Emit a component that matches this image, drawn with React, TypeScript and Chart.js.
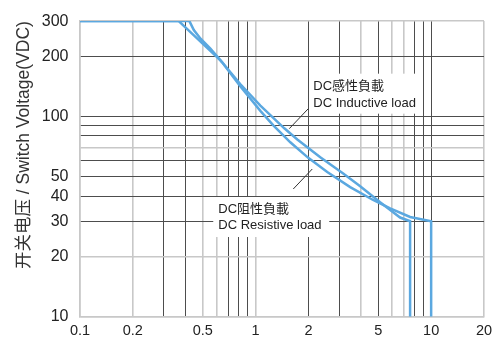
import React, { useEffect, useRef } from 'react';
import { Chart, registerables } from 'chart.js';

Chart.register(...registerables);

// ---- data (current in A, voltage in VDC) ----
const inductiveCurrent = [0.1, 0.365, 0.532, 0.631, 0.82, 1.065, 1.458, 1.729, 2.336, 3.156, 3.943, 5.123, 6.656, 7.588, 7.588];
const inductiveVoltage = [300, 300, 220.0, 191.1, 145.1, 113.5, 87.4, 76.9, 62.6, 51.9, 44.9, 37.3, 31.3, 30, 10];
const resistiveCurrent = [0.1, 0.42, 0.445, 0.486, 0.553, 0.645, 0.82, 1.065, 1.262, 1.577, 1.996, 2.56, 3.458, 4.673, 5.84, 7.588, 10, 10];
const resistiveVoltage = [300, 300, 270.8, 245.0, 218.4, 186.6, 141.2, 106.8, 90.4, 74.4, 62.2, 52.8, 44.4, 38.3, 34.8, 31.5, 30, 10];

// ---- axis ticks ----
const xTickValues = [0.1, 0.2, 0.3, 0.4, 0.5, 0.6, 0.7, 0.8, 0.9, 1, 2, 3, 4, 5, 6, 7, 8, 9, 10, 20];
const xTickLabels = [0.1, 0.2, 0.5, 1, 2, 5, 10, 20];
const xLightGrid = [0.1, 0.2, 0.5, 0.6, 1, 4, 6, 7, 20];
const yTickValues = [10, 20, 30, 40, 50, 60, 70, 80, 90, 100, 200, 300];
const yTickLabels = [10, 20, 30, 40, 50, 100, 200, 300];
const yLightGrid = [10, 20, 70, 300];

const yTitle = '开关电压 / Switch Voltage(VDC)';
const inductiveLabel = ['DC感性負載', 'DC Inductive load'];
const resistiveLabel = ['DC阻性負載', 'DC Resistive load'];
// leader-line tips (data space)
const inductiveTip = { x: 1.556, y: 87 };
const resistiveTip = { x: 2.103, y: 54.7 };

const FONT = "'Liberation Sans', Arial, 'Noto Sans CJK SC', sans-serif";
const LINE_COLOR = '#5ba8e0';
const DARK_GRID = '#4d4d4d';
const LIGHT_GRID = '#c8c8c8';

const toPoints = (xs: number[], ys: number[]) => xs.map((x, i) => ({ x, y: ys[i] }));

const annotationPlugin = {
  id: 'loadLabels',
  afterDatasetsDraw(chart: any) {
    const { ctx } = chart;
    const xs = chart.scales.x;
    const ys = chart.scales.y;
    ctx.save();
    ctx.font = `13px ${FONT}`;
    ctx.textBaseline = 'middle';
    ctx.textAlign = 'left';

    {
      const tx = xs.getPixelForValue(inductiveTip.x);
      const ty = ys.getPixelForValue(inductiveTip.y);
      ctx.fillStyle = '#ffffff';
      ctx.fillRect(tx + 20, ty - 55, 112, 40);
      ctx.strokeStyle = '#333';
      ctx.lineWidth = 1;
      ctx.beginPath();
      ctx.moveTo(tx, ty);
      ctx.lineTo(tx + 19, ty - 20);
      ctx.stroke();
      ctx.fillStyle = '#222';
      ctx.fillText(inductiveLabel[0], tx + 24, ty - 42);
      ctx.fillText(inductiveLabel[1], tx + 24, ty - 25);
    }
    {
      const tx = xs.getPixelForValue(resistiveTip.x);
      const ty = ys.getPixelForValue(resistiveTip.y);
      ctx.fillStyle = '#ffffff';
      ctx.fillRect(tx - 99, ty + 28, 116, 40);
      ctx.strokeStyle = '#333';
      ctx.lineWidth = 1;
      ctx.beginPath();
      ctx.moveTo(tx, ty);
      ctx.lineTo(tx - 19, ty + 20);
      ctx.stroke();
      ctx.fillStyle = '#222';
      ctx.fillText(resistiveLabel[0], tx - 94, ty + 40);
      ctx.fillText(resistiveLabel[1], tx - 94, ty + 56);
    }
    ctx.restore();
  },
};

export default function App() {
  const canvasRef = useRef<HTMLCanvasElement | null>(null);

  useEffect(() => {
    if (!canvasRef.current) return;
    const chart = new Chart(canvasRef.current, {
      type: 'scatter',
      data: {
        datasets: [
          {
            label: 'DC Inductive load',
            data: toPoints(inductiveCurrent, inductiveVoltage),
            showLine: true,
            borderColor: LINE_COLOR,
            borderWidth: 2.5,
            pointRadius: 0,
            tension: 0,
            fill: false,
          },
          {
            label: 'DC Resistive load',
            data: toPoints(resistiveCurrent, resistiveVoltage),
            showLine: true,
            borderColor: LINE_COLOR,
            borderWidth: 2.5,
            pointRadius: 0,
            tension: 0,
            fill: false,
          },
        ],
      },
      options: {
        animation: false,
        responsive: false,
        maintainAspectRatio: false,
        layout: { padding: { top: 14, right: 15, left: 0, bottom: 0 } },
        plugins: {
          legend: { display: false },
          tooltip: { enabled: false },
        },
        scales: {
          x: {
            type: 'logarithmic',
            min: 0.1,
            max: 20,
            afterBuildTicks: (scale: any) => {
              scale.ticks = xTickValues.map((v) => ({ value: v }));
            },
            afterFit: (scale: any) => {
              scale.height = 25.3;
            },
            ticks: {
              autoSkip: false,
              maxRotation: 0,
              padding: 6,
              color: '#222',
              font: { family: FONT, size: 14.5 },
              callback: (value: any) => (xTickLabels.includes(Number(value)) ? String(value) : ''),
            },
            grid: {
              drawTicks: false,
              color: (c: any) => (c.tick && xLightGrid.includes(c.tick.value) ? LIGHT_GRID : DARK_GRID),
              lineWidth: (c: any) => (c.tick && xLightGrid.includes(c.tick.value) ? 1.6 : 1),
            },
            border: { color: LIGHT_GRID, width: 1.6 },
          },
          y: {
            type: 'logarithmic',
            min: 10,
            max: 300,
            afterBuildTicks: (scale: any) => {
              scale.ticks = yTickValues.map((v) => ({ value: v }));
            },
            afterFit: (scale: any) => {
              scale.width = 80;
            },
            ticks: {
              autoSkip: false,
              padding: 11.5,
              color: '#222',
              font: { family: FONT, size: 16 },
              callback: (value: any) => (yTickLabels.includes(Number(value)) ? String(value) : ''),
            },
            grid: {
              drawTicks: false,
              color: (c: any) => (c.tick && yLightGrid.includes(c.tick.value) ? LIGHT_GRID : DARK_GRID),
              lineWidth: (c: any) => (c.tick && yLightGrid.includes(c.tick.value) ? 1.6 : 1),
            },
            border: { color: LIGHT_GRID, width: 1.6 },
            title: {
              display: true,
              text: yTitle,
              color: '#333',
              align: 'end',
              font: { family: FONT, size: 17.5 },
              padding: { top: 14, bottom: 0 },
            },
          },
        },
      } as any,
      plugins: [annotationPlugin],
    });
    return () => chart.destroy();
  }, []);

  return (
    <div style={{ position: 'fixed', left: 0, top: 0, width: 499, height: 342, background: '#fff' }}>
      <canvas ref={canvasRef} width={499} height={342} style={{ display: 'block' }} />
    </div>
  );
}
